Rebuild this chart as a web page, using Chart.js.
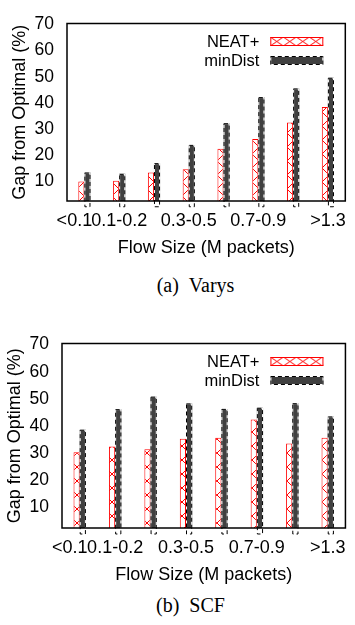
<!DOCTYPE html>
<html><head><meta charset="utf-8">
<script src="https://cdn.jsdelivr.net/npm/chart.js@4.4.0/dist/chart.umd.min.js"></script>
<style>
html,body{margin:0;padding:0;background:#fff;width:355px;height:625px;overflow:hidden;}
canvas{position:absolute;left:0;}
.cap{position:absolute;white-space:nowrap;transform:translateX(-50%);font-family:"Liberation Serif","Times New Roman",serif;font-size:20px;line-height:20px;color:#000;}
</style></head><body>
<canvas id="c1" width="355" height="262" style="top:0"></canvas>
<div class="cap" style="left:195.5px;top:275px">(a)&nbsp;&nbsp;Varys</div>
<canvas id="c2" width="355" height="270" style="top:320px"></canvas>
<div class="cap" style="left:190.5px;top:595px">(b)&nbsp;&nbsp;SCF</div>
<script>
// ---- data ----
const categories = ['<0.1', '0.1-0.2', '', '0.3-0.5', '', '0.7-0.9', '', '>1.3'];
const seriesNames = ['NEAT+', 'minDist'];
const varysNeat = [9.9, 10.2, 13.3, 14.6, 22.4, 26.2, 32.5, 38.4];
const varysMinDist = [13.3, 12.8, 16.9, 23.9, 32.2, 42.2, 45.5, 49.6];
const scfNeat = [30.3, 32.4, 31.4, 35.3, 35.7, 42.4, 33.5, 35.7];
const scfMinDist = [38.6, 46.2, 50.8, 48.3, 46.3, 46.7, 48.4, 43.5];
const yTickLabels = [10, 20, 30, 40, 50, 60, 70];
const yRange = [2.4, 70.4];
const yTitle = 'Gap from Optimal (%)';
const xTitle = 'Flow Size (M packets)';

const F = '"Liberation Sans", Arial, Helvetica, sans-serif';

function makeHatch(w, h) {
  const c = document.createElement('canvas'); c.width = w; c.height = h;
  const g = c.getContext('2d');
  g.fillStyle = '#fff'; g.fillRect(0, 0, w, h);
  g.strokeStyle = '#ff0000'; g.lineWidth = 1;
  g.beginPath(); g.moveTo(0, 0); g.lineTo(w, h); g.moveTo(w, 0); g.lineTo(0, h); g.stroke();
  return g.createPattern(c, 'repeat');
}
const barHatch = makeHatch(14, 14);
const legendHatch = makeHatch(13, 9);

function dashedRect(ctx, l, t, w, h) {
  ctx.save();
  ctx.lineWidth = 1;
  ctx.strokeStyle = '#ffffff';
  ctx.strokeRect(l + 0.5, t + 0.5, w - 1, h - 1);
  ctx.setLineDash([4, 3]);
  ctx.strokeStyle = '#000';
  ctx.strokeRect(l + 0.5, t + 0.5, w - 1, h - 1);
  ctx.restore();
}

const dashPlugin = {
  id: 'dashBorder',
  afterDatasetsDraw(chart) {
    const ctx = chart.ctx;
    chart.data.datasets.forEach((ds, di) => {
      if (!ds.dashedBorder) return;
      chart.getDatasetMeta(di).data.forEach(el => {
        const p = el.getProps(['x', 'y', 'base', 'width'], true);
        const l = p.x - p.width / 2, t = Math.min(p.y, p.base), h = Math.abs(p.base - p.y);
        dashedRect(ctx, l, t, p.width, h);
      });
    });
  }
};
const framePlugin = {
  id: 'frame',
  afterDatasetsDraw(chart) {
    const { ctx, chartArea: a } = chart;
    ctx.save(); ctx.strokeStyle = '#000'; ctx.lineWidth = 1.5;
    ctx.strokeRect(a.left, a.top, a.right - a.left, a.bottom - a.top);
    ctx.restore();
  }
};
const legendPlugin = {
  id: 'insideLegend',
  afterDraw(chart) {
    const { ctx, chartArea: a } = chart;
    chart.data.datasets.forEach((ds, i) => {
      const sw = 53, sh = 9;
      const cy = a.top + 18 + i * 19;
      const sx = a.right - 22 - sw, sy = cy - sh / 2;
      ctx.save();
      if (ds.dashedBorder) {
        ctx.fillStyle = ds.backgroundColor; ctx.fillRect(sx, sy, sw, sh);
        dashedRect(ctx, sx, sy, sw, sh);
      } else {
        ctx.translate(sx, sy);
        ctx.fillStyle = legendHatch; ctx.fillRect(0, 0, sw, sh);
        ctx.strokeStyle = ds.borderColor; ctx.lineWidth = 1; ctx.strokeRect(0.5, 0.5, sw - 1, sh - 1);
        ctx.translate(-sx, -sy);
      }
      ctx.fillStyle = '#000'; ctx.font = '16.5px ' + F;
      ctx.textAlign = 'right'; ctx.textBaseline = 'middle';
      ctx.fillText(ds.label, sx - 11, cy + 1);
      ctx.restore();
    });
  }
};

function makeChart(id, neat, md, g) {
  return new Chart(document.getElementById(id), {
    type: 'bar',
    data: {
      labels: categories,
      datasets: [
        { label: seriesNames[0], data: neat, backgroundColor: barHatch, borderColor: '#ff0000', borderWidth: 1,
          categoryPercentage: 0.35, barPercentage: 1 },
        { label: seriesNames[1], data: md, backgroundColor: '#404040', borderWidth: 0, dashedBorder: true,
          categoryPercentage: 0.35, barPercentage: 1 }
      ]
    },
    options: {
      responsive: false, animation: false, devicePixelRatio: 1,
      layout: { padding: { top: g.top, right: g.right, left: 0, bottom: 0 } },
      plugins: { legend: { display: false }, tooltip: { enabled: false } },
      scales: {
        x: {
          grid: { display: false, drawTicks: false }, border: { display: false },
          ticks: { autoSkip: false, maxRotation: 0, minRotation: 0, padding: 9.2, color: '#000',
                   font: { family: F, size: 18 },
                   callback: (v, i) => i === 0 ? categories[i] + '\u00a0\u00a0\u00a0\u00a0' : categories[i] },
          title: { display: true, text: xTitle, color: '#000', font: { family: F, size: 18 },
                   padding: { top: 0, bottom: g.xTitlePad } },
          afterFit: s => { s.height = g.xh; }
        },
        y: {
          min: yRange[0], max: yRange[1],
          afterBuildTicks: s => { s.ticks = yTickLabels.map(v => ({ value: v })); },
          grid: { display: false, drawTicks: false }, border: { display: false },
          ticks: { padding: 13, color: '#000', font: { family: F, size: 17.5 },
                   callback: v => String(v) },
          title: { display: true, text: yTitle, color: '#000', font: { family: F, size: 18 },
                   padding: { top: g.yTitlePad, bottom: 0 } },
          afterFit: s => { s.width = g.yw; }
        }
      }
    },
    plugins: [dashPlugin, framePlugin, legendPlugin]
  });
}

makeChart('c1', varysNeat, varysMinDist, { top: 14, right: 2, yw: 67, xh: 61, xTitlePad: 3.2, yTitlePad: 9.2 });
makeChart('c2', scfNeat, scfMinDist, { top: 22, right: 5, yw: 62, xh: 62, xTitlePad: 3.7, yTitlePad: 4.2 });
</script>
</body></html>
